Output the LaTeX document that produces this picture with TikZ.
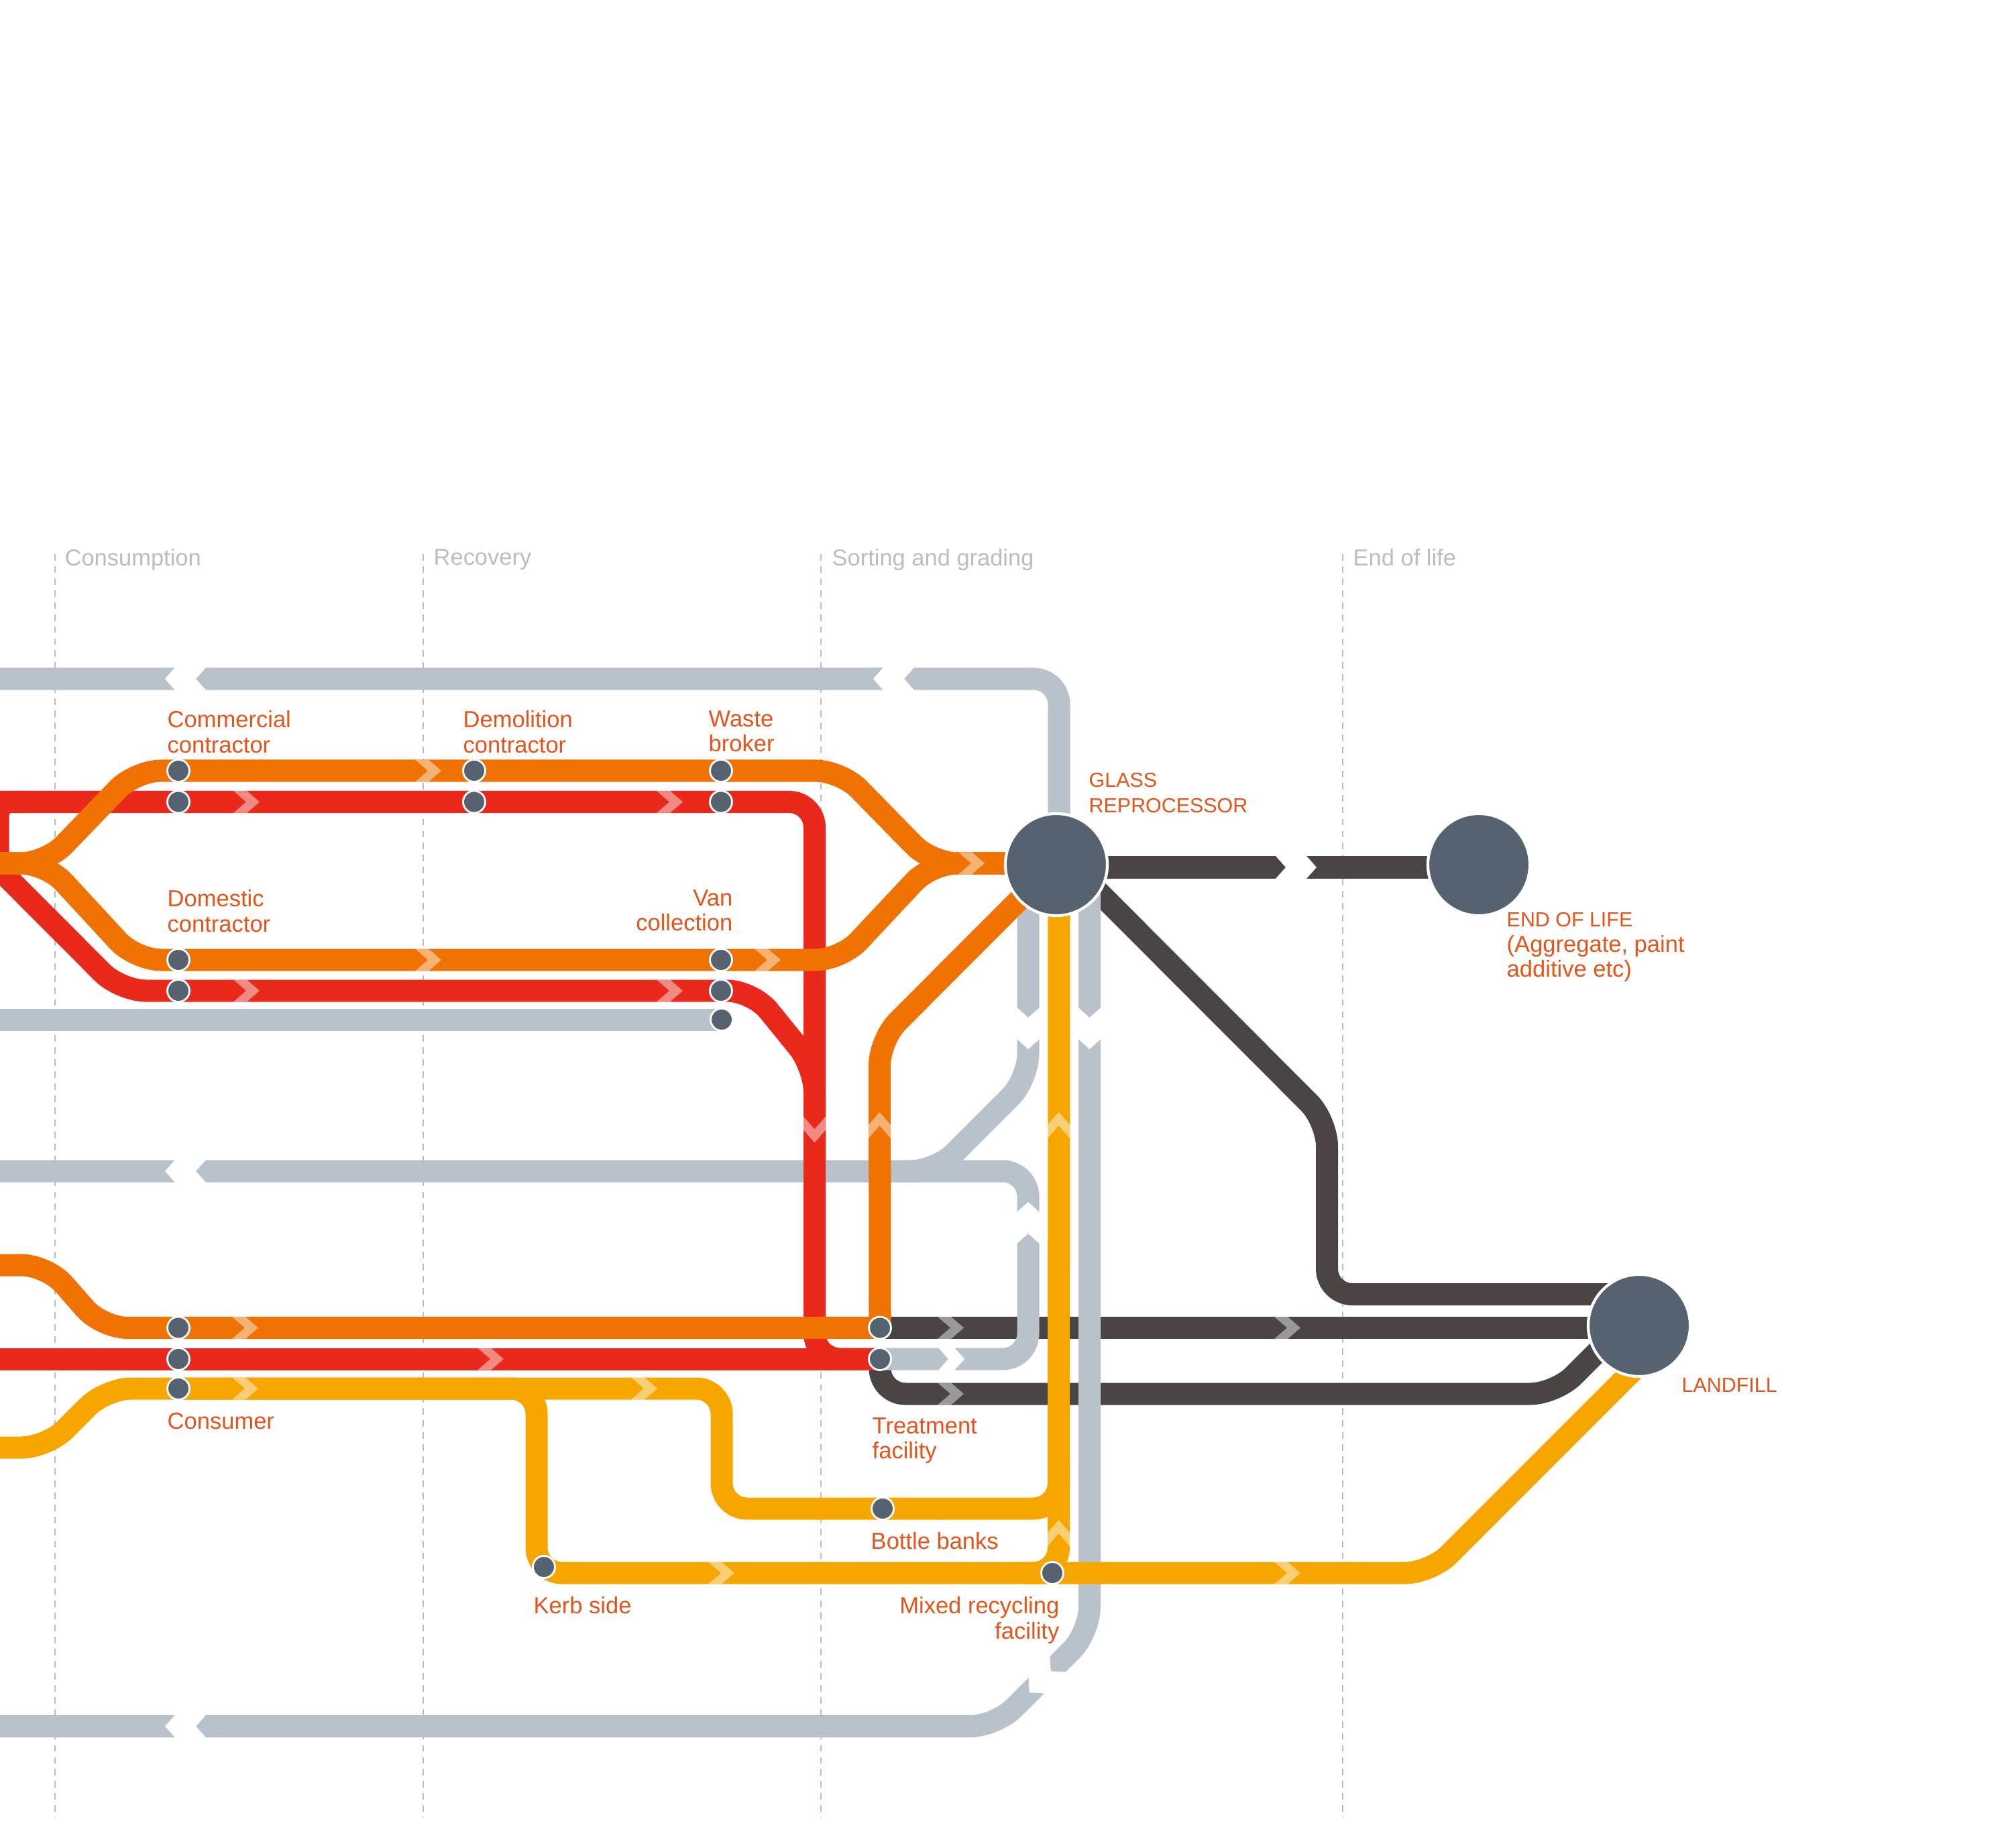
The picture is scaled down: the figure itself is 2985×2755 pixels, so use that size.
\documentclass[tikz,border=0pt]{standalone}
\usepackage{fontspec}
\setmainfont{Liberation Sans}
\usetikzlibrary{backgrounds}
\definecolor{linegrey}{HTML}{B9C2CA}
\definecolor{linered}{HTML}{E8291C}
\definecolor{lineorange}{HTML}{EF7203}
\definecolor{lineyellow}{HTML}{F7A600}
\definecolor{linedark}{HTML}{4A4444}
\definecolor{stopgrey}{HTML}{566270}
\definecolor{labelred}{HTML}{E4551B}
\definecolor{headgrey}{HTML}{BDBDBD}
\newcommand{\capfont}{\fontsize{8.65}{10.6}\selectfont}
\begin{document}
\begin{tikzpicture}[x=0.01cm,y=-0.01cm,
    big node/.style={circle,fill=stopgrey,draw=white,line width=1.2pt,minimum size=1.52cm,inner sep=0},
    stop node/.style={circle,fill=stopgrey,draw=white,line width=0.8pt,minimum size=0.33cm,inner sep=0},
    label node/.style={text=labelred,inner sep=0,font=\fontsize{9.82}{10.6}\selectfont},
    head node/.style={text=headgrey,inner sep=0,anchor=north west,font=\fontsize{9.8}{10.6}\selectfont},
    stage line/.style={draw=headgrey,line width=0.55pt,dash pattern=on 2.8pt off 2.3pt},
    flow line/.style={line width=0.33cm,rounded corners=0.38cm},
    grey line/.style={flow line,draw=linegrey},
    red line/.style={flow line,draw=linered},
    orange line/.style={flow line,draw=lineorange},
    yellow line/.style={flow line,draw=lineyellow},
    dark line/.style={flow line,draw=linedark},
    chevron/.pic={\fill[white,fill opacity=.45] (0,-16.5) -- (20,-16.5) -- (39,0) -- (20,16.5) -- (0,16.5) -- (19,0) -- cycle;},
    pics/gap chevron/.style={code={\fill[white] (0,-18) -- (#1,-18) -- (#1+16,0) -- (#1,18) -- (0,18) -- (16,0) -- cycle;}}]
    \useasboundingbox (0,0) rectangle (2985,2755);

    % hubs
    \node[big node] at (1575,1289) (glass) {};
    \node[big node] at (2205,1289) (endlife) {};
    \node[big node] at (2444,1976) (landfill) {};

    % stops
    \node[stop node] at (266,1149) (commorange) {};
    \node[stop node] at (266,1195.5) (commred) {};
    \node[stop node] at (707,1149) (demolorange) {};
    \node[stop node] at (707,1195.5) (demolred) {};
    \node[stop node] at (1075,1149) (brokerorange) {};
    \node[stop node] at (1075,1195.5) (brokerred) {};
    \node[stop node] at (266,1431) (domorange) {};
    \node[stop node] at (266,1477) (domred) {};
    \node[stop node] at (1075,1431) (vanorange) {};
    \node[stop node] at (1075,1477) (vanred) {};
    \node[stop node] at (1076,1520) (vangrey) {};
    \node[stop node] at (266,1979.5) (consorange) {};
    \node[stop node] at (266,2026) (consred) {};
    \node[stop node] at (266,2070) (consyellow) {};
    \node[stop node] at (1312,1979.5) (treatup) {};
    \node[stop node] at (1312,2026) (treatdown) {};
    \node[stop node] at (1316,2249) (bottle) {};
    \node[stop node] at (811,2336) (kerb) {};
    \node[stop node] at (1569,2345) (mixed) {};

    % free ends
    \coordinate (darkout) at (1600,1293);
    \coordinate (darkin) at (2180,1293);
    \coordinate (darkdiag) at (1615,1307);
    \coordinate (darkup) at (2444,1929.5);
    \coordinate (darkmid) at (2444,1979.5);
    \coordinate (darklow) at (2420,1977);
    \coordinate (yellowtop) at (1579,1300);
    \coordinate (yellowend) at (2450,2028);
    \coordinate (yellowin) at (1530,2345);
    \coordinate (greytop) at (1579,1300);
    \coordinate (greyleft) at (1533,1330);
    \coordinate (greyright) at (1624.5,1330);
    \coordinate (orangediag) at (1560,1301);
    \coordinate (orangehub) at (1500,1287);

    % headings
    \node[head node] at (96,818) (consumption) {Consumption};
    \node[head node] at (646,818) (recovery) {Recovery};
    \node[head node] at (1240,818) (sorting) {Sorting and grading};
    \node[head node] at (2017,818) (endhead) {End of life};

    % labels
    \node[label node,anchor=north west,align=left] at (249,1059) (commlabel) {Commercial\\contractor};
    \node[label node,anchor=north west,align=left] at (690,1059) (demollabel) {Demolition\\contractor};
    \node[label node,anchor=north west,align=left] at (1056,1059) (brokerlabel) {Waste\\broker};
    \node[label node,anchor=north west,align=left] at (249,1326) (domlabel) {Domestic\\contractor};
    \node[label node,anchor=north east,align=right] at (1093,1326) (vanlabel) {Van\\collection};
    \node[label node,anchor=north west,align=left] at (1623,1152) (glasslabel) {\capfont GLASS\\\capfont REPROCESSOR};
    \node[label node,anchor=north west,align=left] at (2246,1360) (endlabel) {\capfont END OF LIFE\\(Aggregate, paint\\additive etc)};
    \node[label node,anchor=north west] at (2507,2054) (landfilllabel) {\capfont LANDFILL};
    \node[label node,anchor=north west] at (249,2106) (conslabel) {Consumer};
    \node[label node,anchor=north west,align=left] at (1300,2113) (treatlabel) {Treatment\\facility};
    \node[label node,anchor=north west] at (1298,2284) (bottlelabel) {Bottle banks};
    \node[label node,anchor=north west] at (795,2380) (kerblabel) {Kerb side};
    \node[label node,anchor=north east,align=right] at (1580,2380) (mixedlabel) {Mixed recycling\\facility};

    \begin{scope}[on background layer]
        % stages
        \draw[stage line] (82,826) -- (82,2710);
        \draw[stage line] (631,826) -- (631,2710);
        \draw[stage line] (1224,826) -- (1224,2710);
        \draw[stage line] (2002,826) -- (2002,2710);

        % dark lines
        \draw[dark line] (darkout) -- (darkin);
        \draw[dark line] (darkdiag) -- (1978.5,1671) -- (1978.5,1929.5) -- (darkup);
        \draw[dark line] (treatup.center) -- (darkmid);
        \draw[dark line] (treatdown.center) -- (1312,2078) -- (2319,2078) -- (darklow);
        \pic at (1398,1979.5) {chevron};
        \pic at (1900,1979.5) {chevron};
        \pic at (1398,2078) {chevron};
        \pic at (1901,1293) {gap chevron=46};

        % grey lines
        \draw[grey line] (-20,1012) -- (1579,1012) -- (greytop);
        \draw[grey line] (greyleft) -- (1533,1609) -- (1396,1746) -- (-20,1746);
        \draw[grey line] (1340,1746) -- (1533,1746) -- (1533,2026) -- (treatdown.center);
        \draw[grey line] (greyright) -- (1624.5,2433.5) -- (1484.5,2573.5) -- (-20,2573.5);
        \draw[grey line] (-20,1520) -- (vangrey.center);
        \pic[rotate=180] at (308,1012) {gap chevron=46};
        \pic[rotate=180] at (1364,1012) {gap chevron=46};
        \pic[rotate=180] at (308,1746) {gap chevron=46};
        \pic[rotate=180] at (308,2573.5) {gap chevron=46};
        \pic[rotate=-90] at (1533,1501) {gap chevron=47};
        \pic[rotate=-90] at (1624.5,1501) {gap chevron=47};
        \pic[rotate=90] at (1533,1855) {gap chevron=47};
        \pic at (1398,2026) {gap chevron=24};
        \pic[rotate=-135] at (1578,2480) {gap chevron=45};

        % red lines
        \draw[red line,rounded corners=0.2cm] (-3,1290) -- (-3,1195.5) -- (40,1195.5);
        \draw[red line] (-20,1195.5) -- (commred.center) -- (demolred.center) -- (brokerred.center) -- (1214.5,1195.5) -- (1214.5,2026) -- (treatdown.center);
        \draw[red line] (-20,1277) -- (179.5,1477) -- (domred.center) -- (1122,1477) -- (1214.5,1591) -- (1214.5,1720);
        \draw[red line] (-20,2026) -- (consred.center) -- (treatdown.center);
        \pic at (348,1195.5) {chevron};
        \pic at (979,1195.5) {chevron};
        \pic at (348,1477) {chevron};
        \pic at (979,1477) {chevron};
        \pic[rotate=-90] at (1214.5,1664.5) {chevron};
        \pic at (712,2026) {chevron};

        % orange lines
        \draw[orange line] (-20,1287) -- (69,1287) -- (202,1149) -- (demolorange.center) -- (brokerorange.center) -- (1254,1149) -- (1389,1287) -- (orangehub);
        \draw[orange line] (-20,1287) -- (69,1287) -- (202,1431) -- (vanorange.center) -- (1254,1431) -- (1389,1287) -- (orangehub);
        \draw[orange line] (orangediag) -- (1311.5,1550) -- (treatup.center);
        \draw[orange line] (treatup.center) -- (consorange.center) -- (152,1979.5) -- (70,1886) -- (-20,1886);
        \pic at (619,1149) {chevron};
        \pic at (619,1431) {chevron};
        \pic at (1125,1431) {chevron};
        \pic at (1429,1287) {chevron};
        \pic at (346,1979.5) {chevron};
        \pic[rotate=90] at (1311.5,1697) {chevron};

        % yellow lines
        \draw[yellow line] (-20,2158) -- (70,2158) -- (158,2070) -- (consyellow.center) -- (1076,2070) -- (1076,2249) -- (bottle.center) -- (1578.5,2249) -- (1578.5,2180);
        \draw[yellow line] (consyellow.center) -- (800,2070) -- (800,2345) -- (mixed.center) -- (2133,2345) -- (yellowend);
        \draw[yellow line] (yellowtop) -- (1578.5,2345) -- (yellowin);
        \pic at (346,2070) {chevron};
        \pic at (941,2070) {chevron};
        \pic at (1056,2345) {chevron};
        \pic at (1900,2345) {chevron};
        \pic[rotate=90] at (1578.5,1697) {chevron};
        \pic[rotate=90] at (1578.5,2305) {chevron};
    \end{scope}
\end{tikzpicture}
\end{document}
